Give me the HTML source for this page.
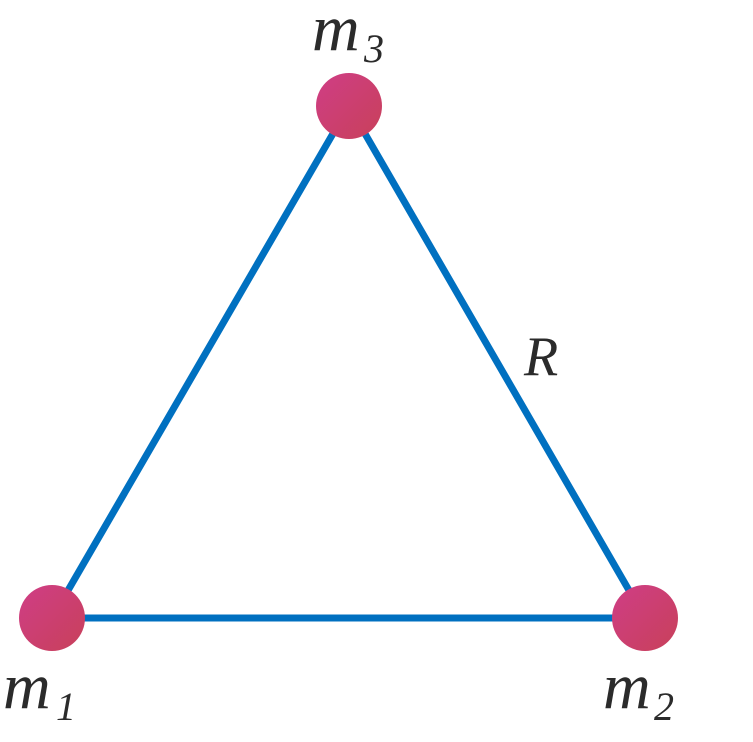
<!DOCTYPE html>
<html><head><style>body{margin:0;background:#fff} text{font-family:"Liberation Serif",serif;font-style:italic}</style></head><body>
<svg width="753" height="737" xmlns="http://www.w3.org/2000/svg">
<defs><linearGradient id="g" x1="0" y1="0" x2="1" y2="1"><stop offset="0" stop-color="#cf3e86"/><stop offset="1" stop-color="#c8405a"/></linearGradient></defs>
<g stroke="#0070c0" stroke-width="7" fill="none">
<line x1="52" y1="618" x2="349" y2="106"/>
<line x1="349" y1="106" x2="645" y2="618"/>
<line x1="52" y1="618" x2="645" y2="618"/>
</g>
<circle cx="349" cy="106" r="33" fill="url(#g)"/>
<circle cx="52" cy="618" r="33" fill="url(#g)"/>
<circle cx="645" cy="618" r="33" fill="url(#g)"/>
<g fill="#2b2b2b">
<text x="312" y="50" font-size="66">m</text><text x="364" y="62" font-size="40">3</text>
<text x="3" y="708" font-size="66">m</text><text x="56" y="720" font-size="40">1</text>
<text x="603" y="708" font-size="66">m</text><text x="654" y="720" font-size="40">2</text>
<text x="524" y="375" font-size="56">R</text>
</g>
</svg>
</body></html>
